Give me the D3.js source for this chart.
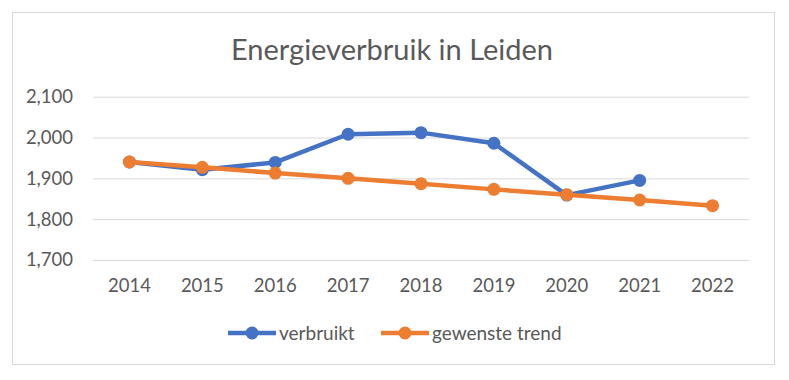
<!DOCTYPE html>
<html><head><meta charset="utf-8">
<script src="https://cdn.jsdelivr.net/npm/d3@7"></script>
<style>body{margin:0;background:#fff}svg{display:block}text{font-family:Lato,"Open Sans",sans-serif;fill:#595959}</style>
</head><body>
<script>
const title = "Energieverbruik in Leiden";
const years = ["2014","2015","2016","2017","2018","2019","2020","2021","2022"];
const verbruikt = [1940, 1921, 1939, 2008, 2012, 1986, 1859, 1895, null];
const trend = [1940, 1927, 1913, 1900, 1887, 1873, 1860, 1847, 1833];
const yTicks = [1700, 1800, 1900, 2000, 2100];
const seriesNames = ["verbruikt", "gewenste trend"];
const colors = ["#4472C4", "#ED7D31"];

const W = 789, H = 380;
const svg = d3.select("body").append("svg").attr("width", W).attr("height", H);
svg.append("rect").attr("x", 12.5).attr("y", 12.5).attr("width", 762).attr("height", 352)
  .attr("fill", "#fff").attr("stroke", "#d9d9d9").attr("stroke-width", 1);

const x = d3.scaleBand().domain(years).range([93, 749]);
const y = d3.scaleLinear().domain([1700, 2100]).range([260, 96.7]);

svg.append("text").attr("x", 392).attr("y", 60).attr("text-anchor", "middle")
  .attr("font-size", 29).text(title);

const ga = svg.append("g").attr("transform", "translate(93,0)")
  .call(d3.axisLeft(y).tickValues(yTicks).tickSize(-656).tickFormat(d3.format(",")));
ga.select(".domain").remove();
ga.selectAll("line").attr("stroke", "#d9d9d9").attr("stroke-width", 1);
ga.selectAll("text").attr("x", -20).attr("font-size", 18.5).attr("fill", "#595959");

const gx = svg.append("g").attr("transform", "translate(0,260)")
  .call(d3.axisBottom(x).tickSize(0));
gx.select(".domain").remove();
gx.selectAll("text").attr("dy", 0).attr("y", 32).attr("font-size", 18.5).attr("fill", "#595959");

const series = [verbruikt, trend];
const line = d3.line().defined(d => d.v != null).x(d => x(d.k) + x.bandwidth() / 2).y(d => y(d.v));
series.forEach((s, i) => {
  const pts = years.map((k, j) => ({k, v: s[j]}));
  svg.append("path").datum(pts).attr("d", line).attr("fill", "none")
    .attr("stroke", colors[i]).attr("stroke-width", 4.5).attr("stroke-linejoin", "round");
  svg.selectAll(null).data(pts.filter(d => d.v != null)).enter().append("circle")
    .attr("cx", d => x(d.k) + x.bandwidth() / 2).attr("cy", d => y(d.v)).attr("r", 6.5)
    .attr("fill", colors[i]);
});

const legendX = [228, 381];
seriesNames.forEach((n, i) => {
  const g = svg.append("g").attr("transform", `translate(${legendX[i]},333)`);
  g.append("line").attr("x1", 0).attr("x2", 48).attr("stroke", colors[i]).attr("stroke-width", 4.5);
  g.append("circle").attr("cx", 24).attr("r", 6.5).attr("fill", colors[i]);
  g.append("text").attr("x", 51).attr("y", 6.5).attr("font-size", 19).text(n);
});
</script>
</body></html>
